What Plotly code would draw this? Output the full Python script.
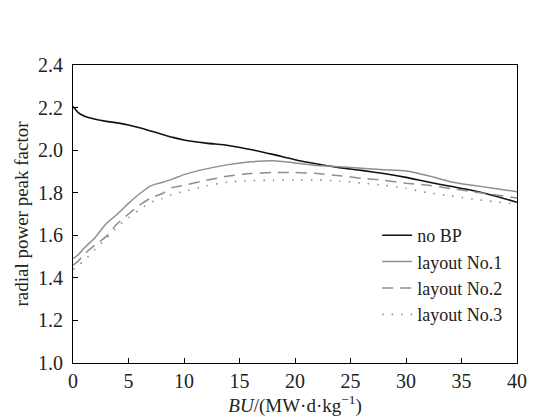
import plotly.graph_objects as go

bu = [0, 0.5, 1, 2, 3, 4, 5, 6, 7, 8, 9, 10, 12, 14, 16, 18, 20, 22, 24, 26, 28, 30, 32, 34, 36, 38, 40]
no_bp = [2.205, 2.175, 2.16, 2.145, 2.135, 2.128, 2.118, 2.105, 2.09, 2.075, 2.06, 2.048, 2.033, 2.022,
         2.003, 1.98, 1.955, 1.935, 1.918, 1.905, 1.89, 1.872, 1.85, 1.83, 1.81, 1.785, 1.755]
layout1 = [1.49, 1.51, 1.54, 1.59, 1.655, 1.70, 1.75, 1.795, 1.832, 1.848, 1.865, 1.885, 1.912, 1.932,
           1.945, 1.95, 1.94, 1.928, 1.922, 1.915, 1.908, 1.902, 1.88, 1.852, 1.835, 1.82, 1.805]
layout2 = [1.46, 1.48, 1.51, 1.555, 1.595, 1.655, 1.70, 1.742, 1.775, 1.795, 1.825, 1.835, 1.858, 1.878,
           1.89, 1.895, 1.895, 1.89, 1.88, 1.868, 1.858, 1.845, 1.835, 1.82, 1.805, 1.79, 1.775]
layout3 = [1.44, 1.46, 1.48, 1.535, 1.585, 1.64, 1.683, 1.72, 1.755, 1.772, 1.793, 1.806, 1.832, 1.85,
           1.857, 1.858, 1.86, 1.86, 1.855, 1.845, 1.835, 1.82, 1.80, 1.785, 1.77, 1.758, 1.745]

series = [
    ("no BP", no_bp, "#111111", "solid", 1.6),
    ("layout No.1", layout1, "#8e8e8e", "solid", 1.5),
    ("layout No.2", layout2, "#8e8e8e", "11px,7px", 1.5),
    ("layout No.3", layout3, "#8e8e8e", "1.5px,8px", 1.6),
]

FONT = "Liberation Serif, Times New Roman, serif"

fig = go.Figure()
for name, ys, color, dash, w in series:
    fig.add_trace(go.Scatter(x=bu, y=ys, mode="lines", name=name,
                             line=dict(color=color, dash=dash, width=w, shape="spline", smoothing=0.6)))

axis_common = dict(showline=True, linecolor="black", linewidth=1.2, mirror=True,
                   ticks="inside", ticklen=5, tickcolor="black", tickwidth=1,
                   showgrid=False, zeroline=False,
                   tickfont=dict(family=FONT, size=20, color="#222"))

fig.update_layout(
    width=539, height=419,
    margin=dict(l=73, r=12, t=65, b=51),
    paper_bgcolor="white", plot_bgcolor="white",
    font=dict(family=FONT, size=19, color="#222"),
    xaxis=dict(range=[0, 40], tickvals=[0, 5, 10, 15, 20, 25, 30, 35, 40],
               title=dict(text="<i>BU</i>/(MW·d·kg<sup>−1</sup>)", standoff=2,
                          font=dict(family=FONT, size=19)),
               **axis_common),
    yaxis=dict(range=[1.0, 2.4], tickvals=[1.0, 1.2, 1.4, 1.6, 1.8, 2.0, 2.2, 2.4],
               tickformat=".1f", ticklabelstandoff=5,
               title=dict(text="radial power peak factor", standoff=4,
                          font=dict(family=FONT, size=19)),
               **axis_common),
    legend=dict(x=0.685, y=0.49, xanchor="left", yanchor="top",
                bgcolor="rgba(0,0,0,0)", font=dict(family=FONT, size=18),
                tracegroupgap=0, itemwidth=30),
    showlegend=True,
)

fig.write_html("out.html")
